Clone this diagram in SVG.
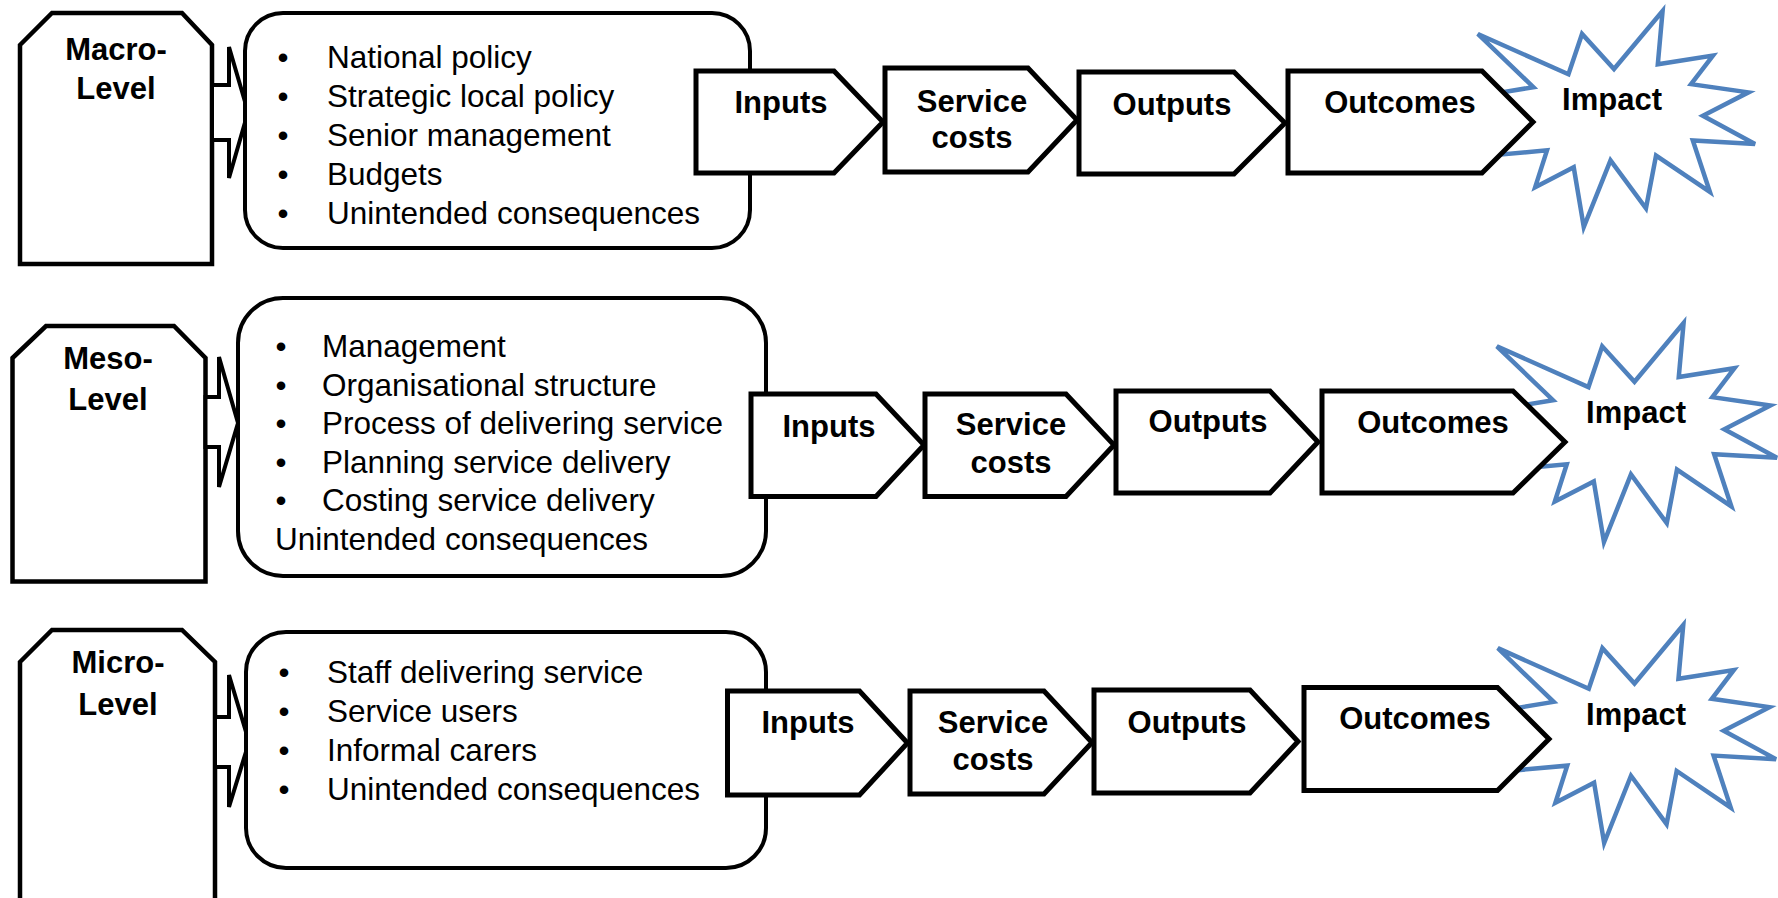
<svg xmlns="http://www.w3.org/2000/svg" xmlns:xlink="http://www.w3.org/1999/xlink" width="1778" height="898" viewBox="0 0 1778 898">
  <style>
    .lvl { fill: #fff; stroke: #000; stroke-width: 4.5; stroke-linejoin: miter; }
    .box { fill: #fff; stroke: #000; stroke-width: 4; }
    .step { fill: #fff; stroke: #000; stroke-width: 5; stroke-linejoin: miter; }
    .conn { fill: #fff; stroke: #000; stroke-width: 4; stroke-linejoin: miter; }
    .seal { fill: #fff; stroke: #4F81BD; stroke-width: 4.5; stroke-linejoin: miter; }
    text { font-family: "Liberation Sans", Arial, sans-serif; fill: #000; }
    .item { font-size: 31.5px; }
    .dot { font-size: 31.5px; text-anchor: middle; }
    .lbl { font-size: 31px; font-weight: bold; text-anchor: middle; }
  </style>
  <defs>
    <!-- explosion outline in a 21600 x 21600 frame -->
    <path id="seal" vector-effect="non-scaling-stroke" d="M10800,5800 L14522,0 L14155,5325 L18380,4457 L16702,7315 L21097,8137 L17607,10475 L21600,13290 L16837,12942 L18145,18095 L14020,14457 L13247,19737 L10532,14935 L8485,21600 L7715,15627 L4762,17617 L5667,13937 L135,14587 L3722,11775 L0,8615 L4627,7617 L370,2295 L7312,6320 L8352,2295 Z"/>
  </defs>

  <!-- ===== Macro level ===== -->
  <g id="macro-level">
    <path class="lvl" d="M20,45 L52,13 L182,13 L212,45 L212,264 L20,264 Z"/>
    <text class="lbl" x="116" y="60">Macro-</text>
    <text class="lbl" x="116" y="99">Level</text>
  </g>
  <g id="connectors-macro">
    <path class="conn" d="M212,85 L229,85 L229,47 L248,112 L229,178 L229,140 L212,140 Z"/>
  </g>
  <g id="macro-factors">
    <rect class="box" x="245" y="13" width="505" height="235" rx="38" ry="38"/>
    <text class="dot" x="283" y="68">•</text><text class="item" x="327" y="68">National policy</text>
    <text class="dot" x="283" y="107">•</text><text class="item" x="327" y="107">Strategic local policy</text>
    <text class="dot" x="283" y="146">•</text><text class="item" x="327" y="146">Senior management</text>
    <text class="dot" x="283" y="185">•</text><text class="item" x="327" y="185">Budgets</text>
    <text class="dot" x="283" y="224">•</text><text class="item" x="327" y="224">Unintended consequences</text>
  </g>
  <g id="macro-impact">
    <use xlink:href="#seal" href="#seal" class="seal" transform="translate(1473,11) scale(0.013056,0.0100)"/>
    <text class="lbl" x="1612" y="110">Impact</text>
  </g>
  <g id="macro-inputs">
    <polygon class="step" points="696,71 834,71 883,122 834,173 696,173"/>
    <text class="lbl" x="781" y="113">Inputs</text>
  </g>
  <g id="macro-costs">
    <polygon class="step" points="885,68 1028,68 1077,120 1028,172 885,172"/>
    <text class="lbl" x="972" y="112">Service</text>
    <text class="lbl" x="972" y="148">costs</text>
  </g>
  <g id="macro-outputs">
    <polygon class="step" points="1079,72 1234,72 1285,123 1234,174 1079,174"/>
    <text class="lbl" x="1172" y="115">Outputs</text>
  </g>
  <g id="macro-outcomes">
    <polygon class="step" points="1288,71 1482,71 1533,122 1482,173 1288,173"/>
    <text class="lbl" x="1400" y="113">Outcomes</text>
  </g>

  <!-- ===== Meso level ===== -->
  <g id="meso-level">
    <path class="lvl" d="M12.5,358 L46,326 L174,326 L205.5,358 L205.5,581.5 L12.5,581.5 Z"/>
    <text class="lbl" x="108" y="369">Meso-</text>
    <text class="lbl" x="108" y="410">Level</text>
  </g>
  <g id="connectors-meso">
    <path class="conn" d="M205.5,397 L219,397 L219,357 L238,423 L219,487 L219,447 L205.5,447 Z"/>
  </g>
  <g id="meso-factors">
    <rect class="box" x="238" y="298" width="528" height="278" rx="45" ry="45"/>
    <text class="dot" x="281" y="357">•</text><text class="item" x="322" y="357">Management</text>
    <text class="dot" x="281" y="395.5">•</text><text class="item" x="322" y="395.5">Organisational structure</text>
    <text class="dot" x="281" y="434">•</text><text class="item" x="322" y="434">Process of delivering service</text>
    <text class="dot" x="281" y="472.5">•</text><text class="item" x="322" y="472.5">Planning service delivery</text>
    <text class="dot" x="281" y="511">•</text><text class="item" x="322" y="511">Costing service delivery</text>
    <text class="item" x="275" y="549.5">Unintended consequences</text>
  </g>
  <g id="meso-impact">
    <use xlink:href="#seal" href="#seal" class="seal" transform="translate(1492,323) scale(0.013194,0.010139)"/>
    <text class="lbl" x="1636" y="423">Impact</text>
  </g>
  <g id="meso-inputs">
    <polygon class="step" points="751,394 876,394 924,445 876,496.5 751,496.5"/>
    <text class="lbl" x="829" y="437">Inputs</text>
  </g>
  <g id="meso-costs">
    <polygon class="step" points="925,394 1066,394 1114,445 1066,496.5 925,496.5"/>
    <text class="lbl" x="1011" y="435">Service</text>
    <text class="lbl" x="1011" y="472.5">costs</text>
  </g>
  <g id="meso-outputs">
    <polygon class="step" points="1116,391 1270,391 1318,442 1270,493 1116,493"/>
    <text class="lbl" x="1208" y="432">Outputs</text>
  </g>
  <g id="meso-outcomes">
    <polygon class="step" points="1322,391 1513,391 1565,442 1513,493 1322,493"/>
    <text class="lbl" x="1433" y="433">Outcomes</text>
  </g>

  <!-- ===== Micro level ===== -->
  <g id="micro-level">
    <path class="lvl" d="M20,662 L52,630 L182,630 L215,662 L215,910 L20,910 Z"/>
    <text class="lbl" x="118" y="673">Micro-</text>
    <text class="lbl" x="118" y="715">Level</text>
  </g>
  <g id="connectors-micro">
    <path class="conn" d="M215,717 L229,717 L229,675 L249,742 L229,807 L229,767 L215,767 Z"/>
  </g>
  <g id="micro-factors">
    <rect class="box" x="246" y="632" width="520" height="236" rx="40" ry="40"/>
    <text class="dot" x="284" y="683">•</text><text class="item" x="327" y="683">Staff delivering service</text>
    <text class="dot" x="284" y="722">•</text><text class="item" x="327" y="722">Service users</text>
    <text class="dot" x="284" y="761">•</text><text class="item" x="327" y="761">Informal carers</text>
    <text class="dot" x="284" y="800">•</text><text class="item" x="327" y="800">Unintended consequences</text>
  </g>
  <g id="micro-impact">
    <use xlink:href="#seal" href="#seal" class="seal" transform="translate(1493,625) scale(0.013102,0.010093)"/>
    <text class="lbl" x="1636" y="725">Impact</text>
  </g>
  <g id="micro-inputs">
    <polygon class="step" points="727.5,691 859.5,691 907.5,743 859.5,795 727.5,795"/>
    <text class="lbl" x="808" y="733">Inputs</text>
  </g>
  <g id="micro-costs">
    <polygon class="step" points="910,691 1044,691 1092,742.5 1044,794 910,794"/>
    <text class="lbl" x="993" y="733">Service</text>
    <text class="lbl" x="993" y="770">costs</text>
  </g>
  <g id="micro-outputs">
    <polygon class="step" points="1094,690 1250,690 1298,741.5 1250,793 1094,793"/>
    <text class="lbl" x="1187" y="733">Outputs</text>
  </g>
  <g id="micro-outcomes">
    <polygon class="step" points="1304,687.5 1497.5,687.5 1549,739 1497.5,790.5 1304,790.5"/>
    <text class="lbl" x="1415" y="729">Outcomes</text>
  </g>
</svg>
